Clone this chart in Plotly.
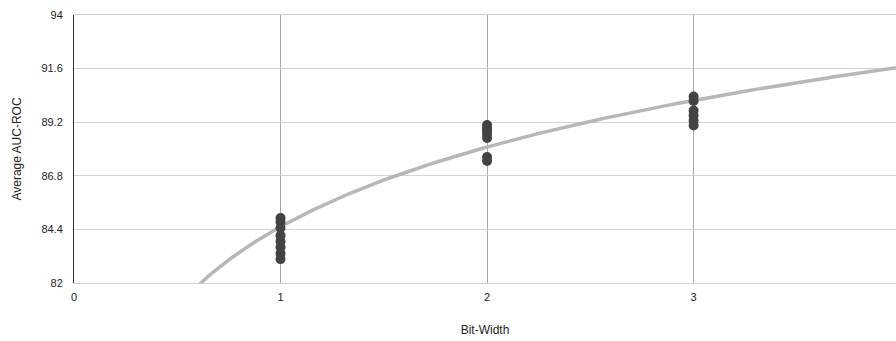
import numpy as np
import plotly.graph_objects as go

# Average AUC-ROC of each run, grouped by quantisation bit-width
bits_1 = [84.91, 84.73, 84.46, 84.12, 83.86, 83.60, 83.32, 83.07]
bits_2 = [89.07, 88.94, 88.81, 88.67, 88.49, 87.64, 87.46]
bits_3 = [90.35, 90.15, 89.72, 89.50, 89.27, 89.05]
bit_widths = [1, 2, 3]

# Logarithmic trendline: y = TREND_A + TREND_B * ln(x)
TREND_A = 84.52
TREND_B = 5.15

y_ticks = [82, 84.4, 86.8, 89.2, 91.6, 94]
y_tick_text = ["82", "84.4", "86.8", "89.2", "91.6", "94"]
x_ticks = [0, 1, 2, 3]

xs, ys = [], []
for bw, vals in zip(bit_widths, [bits_1, bits_2, bits_3]):
    xs += [bw] * len(vals)
    ys += vals

trend_x = np.linspace(0.05, 3.98, 400)
trend_y = TREND_A + TREND_B * np.log(trend_x)

font_family = "Liberation Sans, Arial, sans-serif"

fig = go.Figure()
fig.add_trace(go.Scatter(
    x=trend_x, y=trend_y, mode="lines",
    line=dict(color="#b7b7b7", width=3.5),
    hoverinfo="skip", showlegend=False,
))
fig.add_trace(go.Scatter(
    x=xs, y=ys, mode="markers",
    marker=dict(color="#434343", size=10, line=dict(width=0)),
    showlegend=False,
))

fig.update_layout(
    width=896, height=341,
    margin=dict(l=74, r=0, t=15, b=58),
    paper_bgcolor="white", plot_bgcolor="white",
    font=dict(family=font_family, size=11, color="#222222"),
    xaxis=dict(
        range=[0, 3.98], tickvals=x_ticks, ticktext=[str(v) for v in x_ticks],
        showgrid=True, gridcolor="#a8a8a8", gridwidth=1,
        zeroline=False, showline=True, mirror=True,
        linecolor="#d0d0d0", linewidth=1,
        ticks="", ticklabelstandoff=4,
        title=dict(text="Bit-Width", font=dict(size=12, color="#222222"), standoff=23),
    ),
    yaxis=dict(
        range=[82, 94], tickvals=y_ticks, ticktext=y_tick_text,
        showgrid=True, gridcolor="#d4d4d4", gridwidth=1,
        zeroline=False, showline=True, linecolor="#333333", linewidth=1,
        ticks="", ticklabelstandoff=8,
        title=dict(text="Average AUC-ROC", font=dict(size=12, color="#222222"), standoff=17),
    ),
)

fig.write_html("out.html")
